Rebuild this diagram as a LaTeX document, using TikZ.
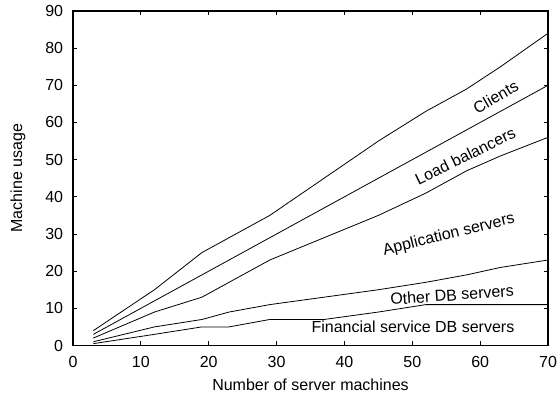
\documentclass[tikz,border=0pt]{standalone}
\usepackage{fontspec}
\setmainfont{Liberation Sans}
\usetikzlibrary{positioning}

\begin{document}
\begin{tikzpicture}[
    x=6.786pt, y=3.717pt,
    every node/.style={font=\fontsize{16}{19}\selectfont, inner sep=0pt},
    frame-style/.style={line width=1.1pt},
    tick-style/.style={line width=0.9pt},
    curve-style/.style={line width=0.8pt, line join=round},
    curve-label/.style={anchor=center}
]
    % 1 px of the plot = 1 pt, origin at the lower left corner of the frame
    \useasboundingbox (-73pt,-52.5pt) rectangle (485pt,345.5pt);

    % Frame and ticks (mirrored on all sides)
    \draw[frame-style] (0,0) rectangle (70,90);
    \foreach \t in {0,10,...,70}{
        \draw[tick-style] (\t,0) -- ++(0,4.5pt) (\t,90) -- ++(0,-4.5pt);
        \node[anchor=north, yshift=-10.5pt] (xt\t) at (\t,0) {\t};
    }
    \foreach \t in {0,10,...,90}{
        \draw[tick-style] (0,\t) -- ++(4.5pt,0) (70,\t) -- ++(-4.5pt,0);
        \node[anchor=east, xshift=-9.7pt] (yt\t) at (0,\t) {\t};
    }

    % Axis labels
    \node[yshift=-38.9pt] (xlabel) at (35,0) {Number of server machines};
    \node[rotate=90] (ylabel) at ([xshift=-55pt]0,45) {Machine usage};

    % Curves
    \draw[curve-style] plot coordinates {(3,4) (12,15) (19,25) (23,29) (29,35) (37,45) (45,55) (52,63) (58,69) (63,75) (70,84)};
    \draw[curve-style] plot coordinates {(3,3) (12,12) (19,19) (23,23) (29,29) (37,37) (45,45) (52,52) (58,58) (63,63) (70,70)};
    \draw[curve-style] plot coordinates {(3,2) (12,9) (19,13) (23,17) (29,23) (37,29) (45,35) (52,41) (58,47) (63,51) (70,56)};
    \draw[curve-style] plot coordinates {(3,1) (12,5) (19,7) (23,9) (29,11) (37,13) (45,15) (52,17) (58,19) (63,21) (70,23)};
    \draw[curve-style] plot coordinates {(3,0.5) (12,3) (19,5) (23,5) (29,7) (37,7) (45,9) (52,11) (58,11) (63,11) (70,11)};

    % Curve labels
    \node[curve-label, rotate=30] (clients) at (62.3,66.9) {Clients};
    \node[curve-label, rotate=26] (balancers) at (57.8,51.0) {Load balancers};
    \node[curve-label, rotate=14] (appservers) at (55.4,29.7) {Application servers};
    \node[curve-label, rotate=4] (otherdb) at (55.85,13.6) {Other DB servers};
    \node[curve-label] (financedb) at (50.1,5.0) {Financial service DB servers};
\end{tikzpicture}
\end{document}
